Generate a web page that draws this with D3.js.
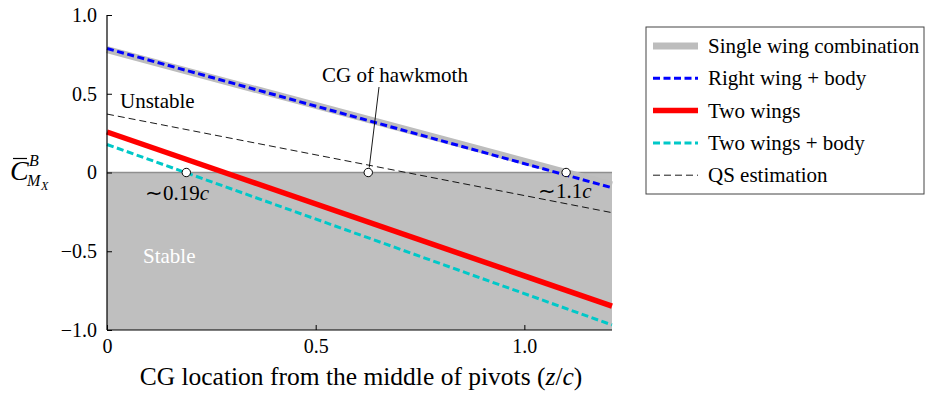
<!DOCTYPE html>
<html>
<head>
<meta charset="utf-8">
<script src="https://cdn.jsdelivr.net/npm/d3@7"></script>
<style>
  html, body { margin: 0; padding: 0; background: #fff; }
  svg { display: block; font-family: "Liberation Serif", "Times New Roman", serif; }
</style>
</head>
<body>
<svg id="chart" width="925" height="395"></svg>
<script>
// CG location (z/c) at the two ends of each straight line
const zEnds = [0, 1.21];

// Mean roll-moment coefficient at each end, per configuration
const singleWing    = [0.78, -0.078];
const rightWingBody = [0.787, -0.097];
const twoWings      = [0.257, -0.848];
const twoWingsBody  = [0.178, -0.968];
const qsEstimate    = [0.371, -0.255];

// Neutral-point markers on the zero line and the hawkmoth CG
const markerZ = [0.19, 0.626, 1.1];

const xTicks = [0, 0.5, 1.0];
const xTickLabels = ["0", "0.5", "1.0"];
const yTicks = [1.0, 0.5, 0, -0.5, -1.0];
const yTickLabels = ["1.0", "0.5", "0", "\u22120.5", "\u22121.0"];

const legendLabels = [
  "Single wing combination",
  "Right wing + body",
  "Two wings",
  "Two wings + body",
  "QS estimation"
];

const svg = d3.select("#chart");
const x = d3.scaleLinear().domain([0, 1.21]).range([107, 612]);
const y = d3.scaleLinear().domain([-1, 1]).range([330, 15]);

// Stable region (negative moment)
svg.append("rect")
  .attr("x", x(0)).attr("y", y(0))
  .attr("width", x(1.21) - x(0)).attr("height", y(-1) - y(0))
  .attr("fill", "#bfbfbf");
svg.append("line")
  .attr("x1", x(0)).attr("x2", x(1.21))
  .attr("y1", y(0)).attr("y2", y(0))
  .attr("stroke", "#8f8f8f").attr("stroke-width", 1.5);

const styles = [
  { data: singleWing,    color: "#bdbdbd", width: 7,   dash: null },
  { data: rightWingBody, color: "#0000ff", width: 3,   dash: "7,3.5" },
  { data: twoWings,      color: "#ff0000", width: 5.5, dash: null },
  { data: twoWingsBody,  color: "#00c8c8", width: 3,   dash: "7,3.5" },
  { data: qsEstimate,    color: "#000000", width: 0.9, dash: "7,4" }
];

const line = d3.line().x(d => x(d[0])).y(d => y(d[1]));
styles.forEach(s => {
  svg.append("path")
    .datum(zEnds.map((z, i) => [z, s.data[i]]))
    .attr("d", line)
    .attr("fill", "none")
    .attr("stroke", s.color)
    .attr("stroke-width", s.width)
    .attr("stroke-dasharray", s.dash);
});

// Axes with inward ticks
const xAxis = d3.axisBottom(x).tickValues(xTicks)
  .tickFormat((d, i) => xTickLabels[i]).tickSizeInner(-5).tickSizeOuter(0).tickPadding(9);
const yAxis = d3.axisLeft(y).tickValues(yTicks)
  .tickFormat((d, i) => yTickLabels[i]).tickSizeInner(-5).tickSizeOuter(0).tickPadding(10);

const gx = svg.append("g").attr("transform", `translate(0,${y(-1)})`).call(xAxis);
const gy = svg.append("g").attr("transform", `translate(${x(0)},0)`).call(yAxis);
[gx, gy].forEach(g => {
  g.selectAll("path").attr("stroke", "#000").attr("stroke-width", 1.2);
  g.selectAll("line").attr("stroke", "#000");
  g.selectAll("text").attr("font-size", 20).attr("fill", "#000")
    .attr("font-family", "Liberation Serif");
});
gy.select(".domain").attr("d", `M0,${y(1)}V${y(-1)}`);
gx.select(".domain").attr("d", `M${x(0)},0H${x(1.21)}`);

// Leader line for the hawkmoth CG
svg.append("line")
  .attr("x1", 379).attr("y1", 87).attr("x2", x(markerZ[1]) + 1).attr("y2", y(0) - 5)
  .attr("stroke", "#000").attr("stroke-width", 0.9);

svg.selectAll("circle.mk").data(markerZ).enter().append("circle")
  .attr("cx", d => x(d)).attr("cy", y(0)).attr("r", 4.2)
  .attr("fill", "#fff").attr("stroke", "#000").attr("stroke-width", 1);

// Text annotations
const ann = (tx, ty, str, opts = {}) => svg.append("text")
  .attr("x", tx).attr("y", ty).attr("font-size", opts.size || 21)
  .attr("fill", opts.fill || "#000").attr("text-anchor", opts.anchor || "start")
  .text(str);
ann(395, 82, "CG of hawkmoth", { anchor: "middle" });
ann(120, 108, "Unstable");
ann(143, 263, "Stable", { fill: "#fff" });

const approx1 = ann(145, 200, "\u223c0.19");
approx1.append("tspan").attr("font-style", "italic").text("c");
const approx2 = ann(538, 198, "\u223c1.1");
approx2.append("tspan").attr("font-style", "italic").text("c");

// X-axis title
const xt = svg.append("text").attr("x", 361).attr("y", 385)
  .attr("text-anchor", "middle").attr("font-size", 25.5);
xt.append("tspan").text("CG location from the middle of pivots (");
xt.append("tspan").attr("font-style", "italic").text("z");
xt.append("tspan").text("/");
xt.append("tspan").attr("font-style", "italic").text("c");
xt.append("tspan").text(")");

// Y-axis title: C-bar with superscript B and subscript M_X, one text element
const yl = svg.append("text").attr("font-style", "italic").attr("x", 10).attr("y", 180);
yl.append("tspan").attr("font-size", 28).text("C");
yl.append("tspan").attr("x", 29).attr("y", 166).attr("font-size", 16).text("B");
yl.append("tspan").attr("x", 27).attr("y", 186).attr("font-size", 16).text("M");
yl.append("tspan").attr("x", 41).attr("y", 190).attr("font-size", 12).text("X");
svg.append("line").attr("x1", 13).attr("x2", 27).attr("y1", 158.5).attr("y2", 158.5)
  .attr("stroke", "#000").attr("stroke-width", 1.2);

// Legend
const lg = svg.append("g");
lg.append("rect").attr("x", 646).attr("y", 27).attr("width", 278).attr("height", 167)
  .attr("fill", "#fff").attr("stroke", "#444").attr("stroke-width", 1);
legendLabels.forEach((label, i) => {
  const ly = 46 + i * 32.3;
  const s = styles[i];
  lg.append("line").attr("x1", 653).attr("x2", 698).attr("y1", ly).attr("y2", ly)
    .attr("stroke", s.color).attr("stroke-width", s.width)
    .attr("stroke-dasharray", s.dash);
  lg.append("text").attr("x", 708).attr("y", ly + 7).attr("font-size", 21).text(label);
});
</script>
</body>
</html>
